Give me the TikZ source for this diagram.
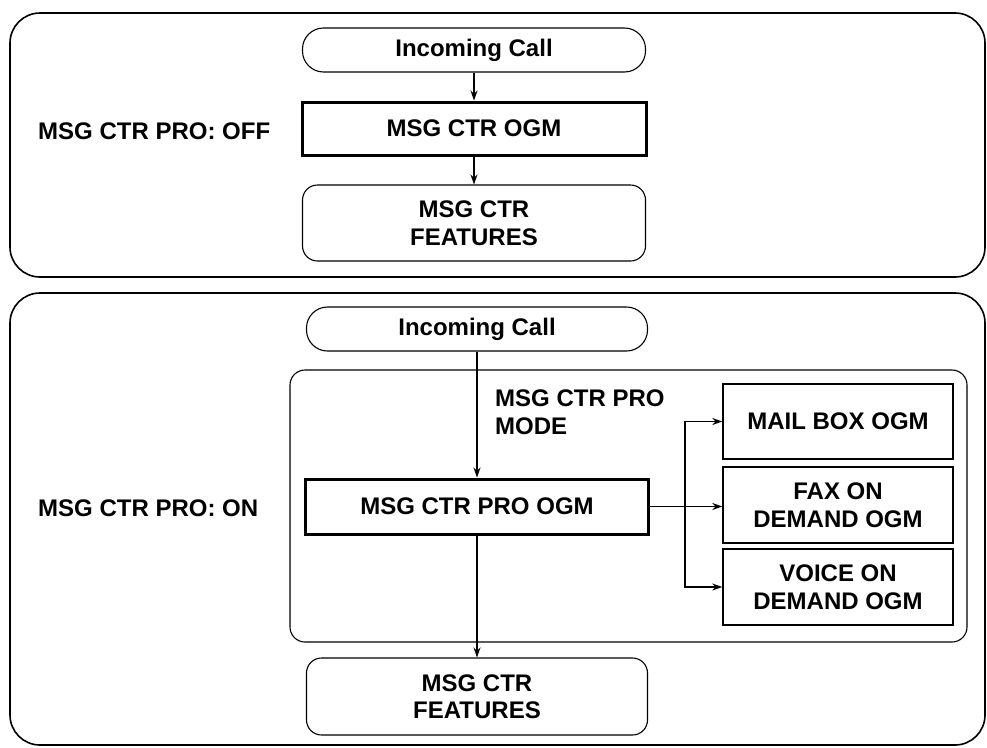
\documentclass[tikz,border=0pt]{standalone}
\usepackage{fontspec}
\setmainfont{Liberation Sans}
\usetikzlibrary{arrows.meta}
\begin{document}
\begin{tikzpicture}[x=1pt,y=-1pt,
  every node/.style={font=\fontsize{24}{27.5}\selectfont\bfseries, align=center, inner sep=0pt},
  panel/.style={draw, line width=1.6pt, rounded corners=30pt},
  pill/.style={draw, line width=1.1pt, rounded corners=21pt},
  softbox/.style={draw, line width=1.1pt, rounded corners=15pt},
  thickbox/.style={draw, line width=3pt},
  plainbox/.style={draw, line width=1.4pt},
  conn/.style={line width=1.3pt, -{Stealth[length=10pt,width=7pt]}}
]
\useasboundingbox (0,0) rectangle (987,747);
% panels
\draw[panel] (10,13) rectangle (985,277);
\draw[panel] (10,293) rectangle (985,745);
\draw[softbox] (290,370) rectangle (967,642);
% top panel
\node (offlbl) [anchor=west] at (38,131) {MSG CTR PRO: OFF};
\node (inc1) [pill, minimum width=343pt, minimum height=44pt] at (474,50) {Incoming Call};
\node (ogm1) [thickbox, minimum width=344pt, minimum height=53pt] at (474,128.5) {MSG CTR OGM};
\node (feat1) [softbox, minimum width=343pt, minimum height=76pt] at (474,223) {MSG CTR\\FEATURES};
\draw[conn] (inc1) -- (ogm1);
\draw[conn] (ogm1) -- (feat1);
% bottom panel
\node (onlbl) [anchor=west] at (38,508) {MSG CTR PRO: ON};
\node (inc2) [pill, minimum width=341pt, minimum height=44pt] at (477,329) {Incoming Call};
\node (ogm2) [thickbox, minimum width=343pt, minimum height=55pt] at (477,506.5) {MSG CTR PRO OGM};
\node (feat2) [softbox, minimum width=341pt, minimum height=77pt] at (477,696.5) {MSG CTR\\FEATURES};
\node (mode) [anchor=west, align=left] at (495,412) {MSG CTR PRO\\MODE};
\node (mail) [plainbox, minimum width=230pt, minimum height=75pt] at (838,421.5) {MAIL BOX OGM};
\node (fax) [plainbox, minimum width=230pt, minimum height=76pt] at (838,505) {FAX ON\\DEMAND OGM};
\node (voice) [plainbox, minimum width=230pt, minimum height=76pt] at (838,587) {VOICE ON\\DEMAND OGM};
\draw[conn] (inc2) -- (ogm2);
\draw[conn] (ogm2) -- (feat2);
\draw[conn] (ogm2.east) -- (ogm2.east -| fax.west);
\coordinate (br) at (685,506.5);
\draw[conn] (br) |- (mail.west);
\draw[conn] (br) |- (voice.west);
\end{tikzpicture}
\end{document}
